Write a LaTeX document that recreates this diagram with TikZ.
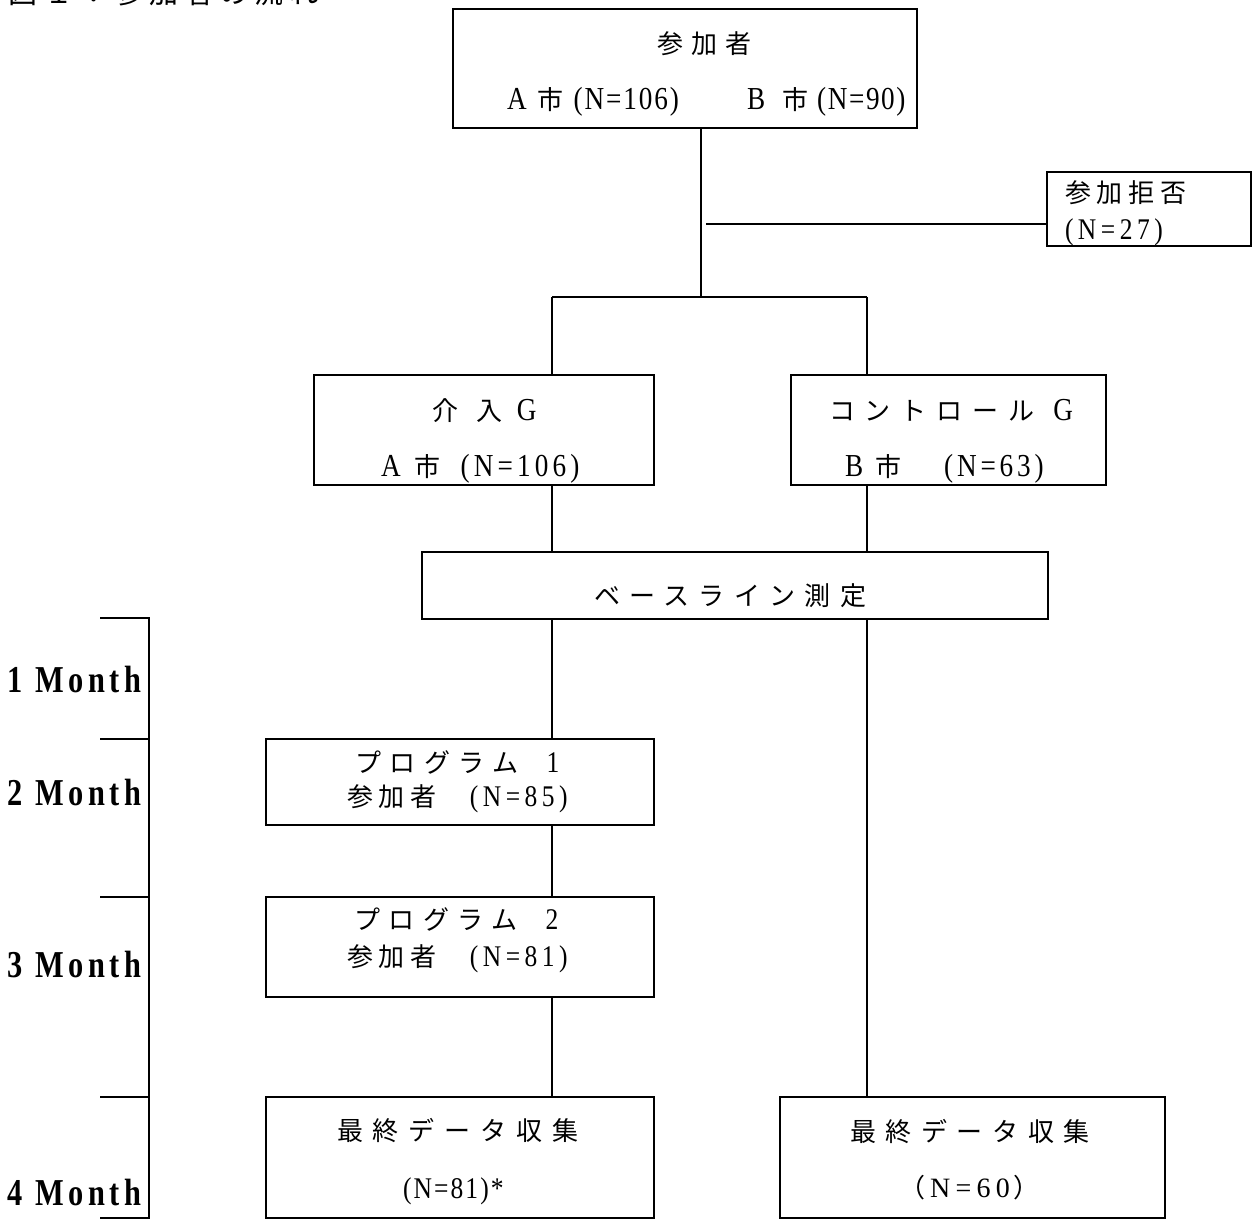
\documentclass[tikz,border=0pt]{standalone}
\usepackage{fontspec}
\newfontfamily\cj{Noto Sans CJK JP}
\newfontfamily\lt[FakeStretch=0.85]{Liberation Serif}
\newfontfamily\ltw{Liberation Serif}
\newfontfamily\ltb[FakeStretch=0.8]{Liberation Serif}
\newcommand\CJ[3]{{\fontsize{#1}{#1}\cj\addfontfeature{LetterSpace=#2}#3}}
\newcommand\LT[3]{{\fontsize{#1}{#1}\lt\addfontfeature{LetterSpace=#2}#3}}
\newcommand\LW[3]{{\fontsize{#1}{#1}\ltw\addfontfeature{LetterSpace=#2}#3}}
\newcommand\LB[3]{{\fontsize{#1}{#1}\ltb\bfseries\addfontfeature{LetterSpace=#2}#3}}
\begin{document}
\begin{tikzpicture}[x=0.5pt,y=-0.5pt,
  box/.style={draw,line width=1pt,inner sep=0pt,outer sep=0pt},
  txt/.style={anchor=base west,inner sep=0pt,outer sep=0pt},
  conn/.style={line width=1pt}]
\useasboundingbox (0,0) rectangle (1254,1219);
% title (partly above the page)
\node[txt] (title) at (9,4) {\CJ{14.5}{21}{図１：参加者の流れ}};
% boxes
\node[box,minimum width=232pt,minimum height=59.5pt] (top) at (685,68.5) {};
\node[box,minimum width=102pt,minimum height=37pt] (refuse) at (1149,209) {};
\node[box,minimum width=170pt,minimum height=55pt] (int) at (484,430) {};
\node[box,minimum width=157.5pt,minimum height=55pt] (ctl) at (948.5,430) {};
\node[box,minimum width=313pt,minimum height=33.5pt] (base) at (735,585.5) {};
\node[box,minimum width=194pt,minimum height=43pt] (p1) at (460,782) {};
\node[box,minimum width=194pt,minimum height=50pt] (p2) at (460,947) {};
\node[box,minimum width=194pt,minimum height=60.5pt] (fL) at (460,1157.5) {};
\node[box,minimum width=192.5pt,minimum height=60.5pt] (fR) at (972.5,1157.5) {};
% texts
\node[txt] (t1) at (657,54) {\CJ{13}{31}{参加者}};
\node[txt] (t2) at (507,110) {\LT{16}{7}{A}\hspace{5.5pt}\CJ{13}{0}{市}\hspace{5pt}\LT{16}{6}{(N=106)}\hspace{34pt}\LT{16}{7}{B}\hspace{8.5pt}\CJ{13}{0}{市}\hspace{4.5pt}\LT{16}{5}{(N=90)}};
\node[txt] (r1) at (1065,203) {\CJ{13}{23}{参加拒否}};
\node[txt] (r2) at (1065,240) {\LT{15}{15}{(N=27)}};
\node[txt] (i1) at (432,421) {\CJ{13}{73}{介入}\hspace{7pt}\LT{16}{7}{G}};
\node[txt] (i2) at (381,477) {\LT{16}{13}{A}\hspace{7pt}\CJ{13}{0}{市}\hspace{10pt}\LT{16}{13}{(N=106)}};
\node[txt] (c1) at (829,421) {\CJ{13}{38}{コントロール}\hspace{9.5pt}\LT{16}{7}{G}};
\node[txt] (c2) at (845,477) {\LT{16}{13}{B}\hspace{6pt}\CJ{13}{0}{市}\hspace{21.5pt}\LT{16}{12}{(N=63)}};
\node[txt] (b1) at (594,606) {\CJ{13}{36}{ベースライン測定}};
\node[txt] (pa1) at (355,772) {\CJ{13}{33}{プログラム}\hspace{14pt}\LT{15}{0}{1}};
\node[txt] (pa2) at (347,806) {\CJ{13}{23}{参加者}\hspace{16.5pt}\LT{15}{15}{(N=85)}};
\node[txt] (pb1) at (354,929) {\CJ{13}{33}{プログラム}\hspace{14pt}\LT{15}{0}{2}};
\node[txt] (pb2) at (347,966) {\CJ{13}{23}{参加者}\hspace{16.5pt}\LT{15}{15}{(N=81)}};
\node[txt] (fl1) at (337,1140) {\CJ{13}{38}{最終データ収集}};
\node[txt] (fl2) at (403,1198) {\LT{15}{7}{(N=81)*}};
\node[txt] (fr1) at (850,1141) {\CJ{13}{37}{最終データ収集}};
\node[txt] (fr2) at (899,1197) {\CJ{13}{0}{（}\hspace{2.5pt}\LW{14}{19}{N=60}\hspace{2pt}\CJ{13}{0}{）}};
% month labels
\node[txt] (m1) at (8,692) {\LB{19}{12}{1 Month}};
\node[txt] (m2) at (8,805) {\LB{19}{12}{2 Month}};
\node[txt] (m3) at (8,977) {\LB{19}{12}{3 Month}};
\node[txt] (m4) at (8,1205) {\LB{19}{12}{4 Month}};
% connectors
\coordinate (j) at (701,297);
\coordinate (jl) at (552,297);
\coordinate (jr) at (867,297);
\coordinate (brk) at (706,224);
\draw[conn] (j |- top.south) -- (j);
\draw[conn] (jl) -- (jr);
\draw[conn] (jl) -- (jl |- int.north);
\draw[conn] (jr) -- (jr |- ctl.north);
\draw[conn] (brk) -- (brk -| refuse.west);
\draw[conn] (jl |- int.south) -- (jl |- base.north);
\draw[conn] (jr |- ctl.south) -- (jr |- base.north);
\draw[conn] (jl |- base.south) -- (jl |- p1.north);
\draw[conn] (jr |- base.south) -- (jr |- fR.north);
\draw[conn] (jl |- p1.south) -- (jl |- p2.north);
\draw[conn] (jl |- p2.south) -- (jl |- fL.north);
% time bracket
\draw[conn] (100,618) -- (149,618) -- (149,1218) -- (100,1218);
\draw[conn] (100,739) -- (149,739);
\draw[conn] (100,897) -- (149,897);
\draw[conn] (100,1097) -- (149,1097);
\end{tikzpicture}
\end{document}
